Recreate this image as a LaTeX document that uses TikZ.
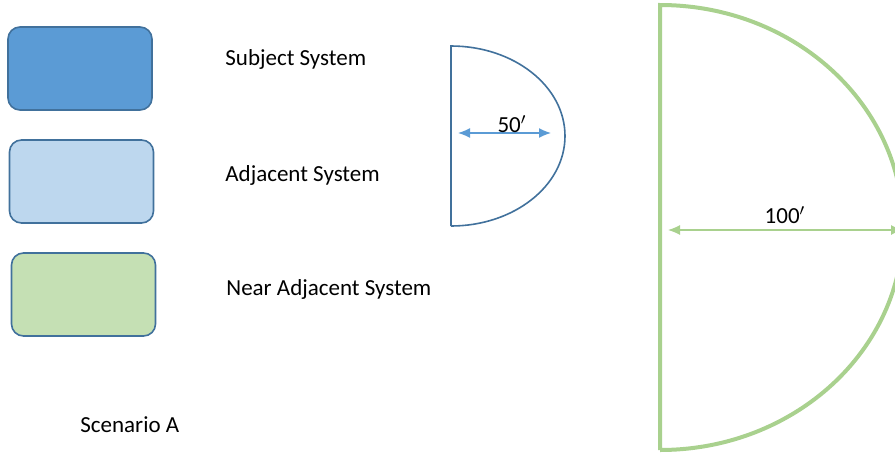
\documentclass[tikz,border=0pt]{standalone}
\usepackage{fontspec}
\setmainfont{Carlito}
\usetikzlibrary{arrows.meta}
\definecolor{subjblue}{HTML}{5B9BD5}
\definecolor{adjblue}{HTML}{BDD7EE}
\definecolor{neargreen}{HTML}{C5E0B4}
\definecolor{edgeblue}{HTML}{41719C}
\definecolor{linegreen}{HTML}{A9D18E}

\begin{document}
\begin{tikzpicture}
  [x=0.5pt,y=0.5pt,
   every node/.style={font=\fontsize{11.5}{14}\selectfont},
   keybox/.style={rounded corners=6pt,draw=edgeblue,line width=0.8pt,
     minimum width=72pt,minimum height=41.5pt,inner sep=0pt},
   keytext/.style={anchor=west,inner sep=0pt}]

  \useasboundingbox (0,0) rectangle (895,452);
  \clip (0,0) rectangle (895,452);

  % legend
  \node[keybox,fill=subjblue] (subj) at (80,383.5) {};
  \node[keybox,fill=adjblue] (adj) at (81.5,270.5) {};
  \node[keybox,fill=neargreen] (near) at (83.5,157.5) {};

  \node[keytext] (subjtext) at (225,393) {Subject System};
  \node[keytext] (adjtext) at (225,277) {Adjacent System};
  \node[keytext] (neartext) at (226,163) {Near Adjacent System};
  \node[keytext] (scen) at (80,27) {Scenario A};

  % 50 ft zone
  \draw[edgeblue,line width=0.8pt] (451,226) -- (451,406)
    arc[start angle=90,end angle=-90,x radius=57pt,y radius=45pt];
  \coordinate (s1) at (458,319);
  \coordinate (s2) at (551,319);
  \draw[subjblue,line width=0.7pt,{Latex[length=6pt,width=5pt]}-{Latex[length=6pt,width=5pt]}] (s1) -- (s2);
  \node (fifty) at (512,328) {50$'$};

  % 100 ft zone
  \draw[linegreen,line width=2pt] (660,2) -- (660,447)
    arc[start angle=90,end angle=-90,x radius=121.5pt,y radius=111.25pt];
  \coordinate (b1) at (668,222);
  \coordinate (b2) at (903,222);
  \draw[linegreen,line width=0.6pt,{Latex[length=6pt,width=5pt]}-{Latex[length=6pt,width=5pt]}] (b1) -- (b2);
  \node (hundred) at (785,237) {100$'$};
\end{tikzpicture}
\end{document}
